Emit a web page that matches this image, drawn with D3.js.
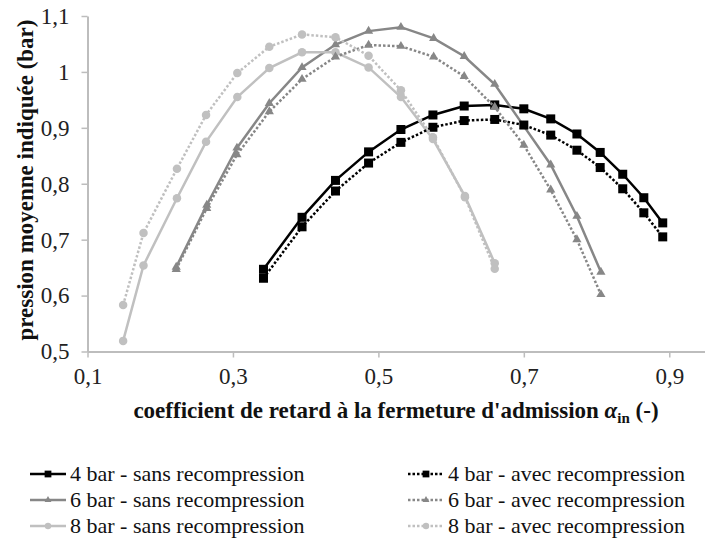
<!DOCTYPE html>
<html>
<head>
<meta charset="utf-8">
<script src="https://cdn.jsdelivr.net/npm/d3@7/dist/d3.min.js"></script>
<style>
  body { margin: 0; background: #fff; }
  svg text { font-family: "Liberation Serif", "Times New Roman", Times, "DejaVu Serif", serif; }
</style>
</head>
<body>
<div id="chart"></div>
<script>
// alpha_in values (x) for each inlet pressure
const alpha4 = [0.342, 0.395, 0.441, 0.4865, 0.531, 0.575, 0.618, 0.660, 0.700, 0.737, 0.773, 0.805, 0.836, 0.865, 0.891];
const alpha6 = [0.222, 0.264, 0.3055, 0.350, 0.395, 0.441, 0.4865, 0.531, 0.576, 0.618, 0.660, 0.700, 0.737, 0.773, 0.806];
const alpha8 = [0.149, 0.177, 0.223, 0.263, 0.306, 0.350, 0.395, 0.441, 0.4865, 0.531, 0.575, 0.619, 0.660];

// indicated mean pressure (bar)
const p4Sans = [0.647, 0.740, 0.806, 0.857, 0.897, 0.923, 0.939, 0.941, 0.934, 0.916, 0.889, 0.856, 0.817, 0.775, 0.730];
const p4Avec = [0.631, 0.723, 0.787, 0.837, 0.874, 0.901, 0.913, 0.915, 0.905, 0.887, 0.860, 0.829, 0.791, 0.748, 0.705];
const p6Sans = [0.651, 0.762, 0.864, 0.944, 1.008, 1.049, 1.073, 1.080, 1.060, 1.028, 0.978, 0.903, 0.834, 0.742, 0.642];
const p6Avec = [0.647, 0.756, 0.852, 0.929, 0.987, 1.027, 1.048, 1.046, 1.027, 0.992, 0.937, 0.869, 0.789, 0.700, 0.602];
const p8Sans = [0.519, 0.654, 0.774, 0.875, 0.955, 1.007, 1.035, 1.035, 1.008, 0.955, 0.880, 0.778, 0.658];
const p8Avec = [0.583, 0.712, 0.827, 0.923, 0.998, 1.045, 1.067, 1.062, 1.029, 0.967, 0.883, 0.776, 0.648];

const xTicks = [0.1, 0.3, 0.5, 0.7, 0.9];
const yTicks = [0.5, 0.6, 0.7, 0.8, 0.9, 1.0, 1.1];

const width = 705, height = 542;
const serif = '"Liberation Serif", "Times New Roman", Times, serif';

const series = [
  { name: "4 bar - sans recompression", x: alpha4, y: p4Sans, color: "#000000", dash: null, shape: "square" },
  { name: "6 bar - sans recompression", x: alpha6, y: p6Sans, color: "#878787", dash: null, shape: "triangle" },
  { name: "8 bar - sans recompression", x: alpha8, y: p8Sans, color: "#c0c0c0", dash: null, shape: "circle" },
  { name: "4 bar - avec recompression", x: alpha4, y: p4Avec, color: "#000000", dash: "2.5,2", shape: "square" },
  { name: "6 bar - avec recompression", x: alpha6, y: p6Avec, color: "#878787", dash: "2.5,2", shape: "triangle" },
  { name: "8 bar - avec recompression", x: alpha8, y: p8Avec, color: "#c0c0c0", dash: "2.5,2", shape: "circle" }
];

const svg = d3.select("#chart").append("svg")
  .attr("width", width)
  .attr("height", height)
  .style("background", "#fff");

const x = d3.scaleLinear().domain([0.1, 1.0]).range([87.5, 742]);
const y = d3.scaleLinear().domain([0.5, 1.1]).range([351.5, 16]);

const fmt = d => (Math.round(d * 10) / 10).toString().replace(".", ",");

// axes
const xAxis = svg.append("g")
  .attr("transform", `translate(0,${y(0.5)})`)
  .call(d3.axisBottom(x).tickValues(xTicks).tickFormat(fmt).tickSize(6).tickSizeOuter(0).tickPadding(10));

const yAxis = svg.append("g")
  .attr("transform", `translate(${x(0.1)},0)`)
  .call(d3.axisLeft(y).tickValues(yTicks).tickFormat(fmt).tickSize(6).tickSizeOuter(0).tickPadding(12));

[xAxis, yAxis].forEach(g => {
  g.attr("font-family", serif).attr("font-size", 23);
  g.select(".domain").attr("stroke", "#bdbdbd").attr("stroke-width", 2);
  g.selectAll(".tick line").attr("stroke", "#bdbdbd").attr("stroke-width", 1.5);
  g.selectAll(".tick text").attr("fill", "#222");
});

// axis titles
const xTitle = svg.append("text")
  .attr("x", 396)
  .attr("y", 418)
  .attr("text-anchor", "middle")
  .style("font-size", "23px")
  .style("font-weight", "bold")
  .attr("fill", "#111");
xTitle.append("tspan").text("coefficient de retard à la fermeture d'admission ");
xTitle.append("tspan").style("font-style", "italic").text("α");
xTitle.append("tspan").attr("dy", 5).style("font-size", "15px").text("in");
xTitle.append("tspan").attr("dy", -5).text(" (-)");

svg.append("text")
  .attr("transform", "translate(33,180) rotate(-90)")
  .attr("text-anchor", "middle")
  .style("font-size", "23px")
  .style("font-weight", "bold")
  .attr("fill", "#111")
  .text("pression moyenne indiquée (bar)");

// marker helper
function drawMarker(sel, shape, color, s) {
  if (shape === "square") {
    sel.append("rect")
      .attr("x", -s / 2).attr("y", -s / 2)
      .attr("width", s).attr("height", s)
      .attr("fill", color);
  } else if (shape === "triangle") {
    sel.append("path")
      .attr("d", d3.symbol(d3.symbolTriangle, s * s * 0.45)())
      .attr("fill", color);
  } else {
    sel.append("circle").attr("r", s / 2).attr("fill", color);
  }
}

const sizes = { square: 9, triangle: 9, circle: 8.5 };

const line = d3.line().x(d => x(d[0])).y(d => y(d[1]));

series.forEach(s => {
  const pts = s.x.map((v, i) => [v, s.y[i]]);
  const g = svg.append("g");
  g.append("path")
    .datum(pts)
    .attr("d", line)
    .attr("fill", "none")
    .attr("stroke", s.color)
    .attr("stroke-width", 2.5)
    .attr("stroke-dasharray", s.dash);
  g.selectAll("g.pt")
    .data(pts)
    .enter().append("g")
    .attr("class", "pt")
    .attr("transform", d => `translate(${x(d[0])},${y(d[1])})`)
    .each(function () { drawMarker(d3.select(this), s.shape, s.color, sizes[s.shape]); });
});

// legend: two columns, three rows
const legendRows = [474, 500, 526];
const legendCols = [30, 408];
series.forEach((s, i) => {
  const col = i < 3 ? 0 : 1;
  const row = i % 3;
  const lx = legendCols[col], ly = legendRows[row];
  const g = svg.append("g").attr("transform", `translate(${lx},${ly})`);
  g.append("line")
    .attr("x1", 0).attr("x2", 36)
    .attr("y1", 0).attr("y2", 0)
    .attr("stroke", s.color)
    .attr("stroke-width", 2.5)
    .attr("stroke-dasharray", s.dash);
  const m = g.append("g").attr("transform", "translate(18,0)");
  drawMarker(m, s.shape, s.color, sizes[s.shape] * 0.75);
  g.append("text")
    .attr("x", 40)
    .attr("y", 7)
    .style("font-size", "22px")
    .attr("fill", "#111")
    .text(s.name);
});
</script>
</body>
</html>
